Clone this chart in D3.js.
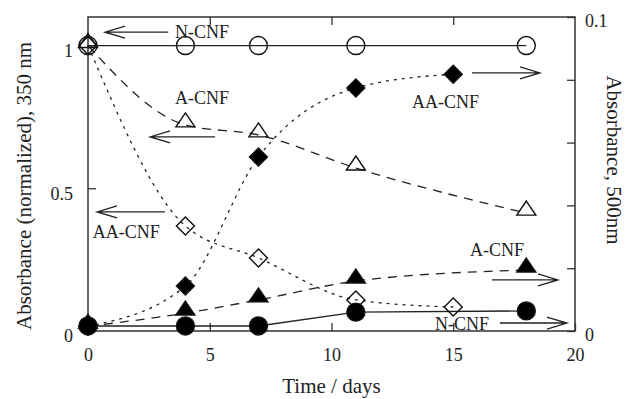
<!DOCTYPE html>
<html>
<head>
<meta charset="utf-8" />
<title>Absorbance vs time</title>
<script src="https://d3js.org/d3.v7.min.js"></script>
<style>
  body { margin: 0; background: #fff; }
  svg text { font-family: "Liberation Serif", "Times New Roman", serif; fill: #222; }
  .axis path.domain { display: none; }
  .axis line { stroke: #333; stroke-width: 1.3px; }
  .axis text { font-size: 18px; }
  .series { fill: none; stroke: #222; stroke-width: 1.3px; }
  .note { font-size: 18px; }
  .arrow { fill: none; stroke: #222; stroke-width: 1.3px; }
</style>
</head>
<body>
<script>
// ticks
const xTicks = [0, 5, 10, 15, 20];
const leftTicks = [0, 0.5, 1];
const rightTicks = [0, 0.02, 0.04, 0.06, 0.08, 0.1];

// days sampled for each sample type
const daysN = [0, 4, 7, 11, 18];
const daysA = [0, 4, 7, 11, 18];
const daysAA = [0, 4, 7, 11, 15];

// absorbance 350 nm, normalized (left axis, open markers)
const nOpen = [1, 1, 1, 1, 1];
const aOpen = [1, 0.722, 0.687, 0.571, 0.413];
const aaOpen = [1, 0.368, 0.256, 0.109, 0.084];

// absorbance 500 nm (right axis, filled markers)
const nFilled = [0.0016, 0.0016, 0.0016, 0.006, 0.0064];
const aFilled = [0.0015, 0.0057, 0.0099, 0.0159, 0.0194];
const aaFilled = [0.0015, 0.0143, 0.0554, 0.0774, 0.0818];

// labels, placed in data units (days, left-axis value)
const noteText = ['N-CNF', 'A-CNF', 'AA-CNF', 'AA-CNF', 'A-CNF', 'N-CNF'];
const noteX = [3.57, 3.57, 0.2, 13.31, 15.69, 14.25];
const noteY = [1.026, 0.795, 0.326, 0.781, 0.263, 0.0035];

// arrows: tail day -> tip day, at a left-axis height
const arrowFrom = [3.29, 5.22, 3.16, 15.77, 16.59, 16.92];
const arrowTo = [0.70, 2.55, 0.37, 18.56, 19.30, 19.67];
const arrowY = [1.047, 0.680, 0.417, 0.904, 0.179, 0.028];

const W = 626, H = 399;
const margin = { top: 17, right: 51, bottom: 68, left: 88 };
const width = W - margin.left - margin.right;
const height = H - margin.top - margin.bottom;

const svg = d3.select('body').append('svg')
    .attr('width', W).attr('height', H)
    .style('display', 'block');
svg.append('rect').attr('width', W).attr('height', H).attr('fill', '#fff');

const g = svg.append('g').attr('transform', `translate(${margin.left},${margin.top})`);

const x = d3.scaleLinear().domain([0, 20]).range([0, width]);
const yL = d3.scaleLinear().domain([0, 1.1]).range([height, 0]);
const yR = d3.scaleLinear().domain([0, 0.1]).range([height, 0]);

// axes, ticks pointing inward
g.append('g').attr('class', 'axis')
    .attr('transform', `translate(0,${height})`)
    .call(d3.axisBottom(x).tickValues(xTicks).tickSize(-8).tickPadding(17).tickFormat(d3.format('d')));
g.append('g').attr('class', 'axis')
    .call(d3.axisTop(x).tickValues(xTicks.slice(1, -1)).tickSize(-8).tickFormat(''));
g.append('g').attr('class', 'axis')
    .call(d3.axisLeft(yL).tickValues(leftTicks).tickSize(-8).tickPadding(15).tickFormat(d => d === 0.5 ? '0.5' : String(d)))
    .selectAll('text').attr('dy', '0.6em');
g.append('g').attr('class', 'axis')
    .attr('transform', `translate(${width},0)`)
    .call(d3.axisRight(yR).tickValues(rightTicks).tickSize(-8).tickPadding(10)
        .tickFormat(d => d === 0 ? '0' : (d === 0.1 ? '0.1' : '')))
    .selectAll('text').attr('dy', '0.55em');

g.append('rect').attr('width', width).attr('height', height)
    .attr('fill', 'none').attr('stroke', '#333').attr('stroke-width', 1.5);

// axis titles
svg.append('text').attr('x', margin.left + width / 2).attr('y', 393)
    .attr('text-anchor', 'middle').style('font-size', '21px').text('Time / days');
svg.append('text').attr('transform', 'translate(24,186) rotate(-90)')
    .attr('text-anchor', 'middle').attr('dominant-baseline', 'central')
    .style('font-size', '21px').text('Absorbance (normalized), 350 nm');
svg.append('text').attr('transform', 'translate(614,160) rotate(90)')
    .attr('text-anchor', 'middle').attr('dominant-baseline', 'central')
    .style('font-size', '21px').text('Absorbance, 500nm');

// series
const series = [
    { days: daysN, vals: nOpen, y: yL, shape: 'circle', fill: false, dash: null, curve: d3.curveLinear },
    { days: daysA, vals: aOpen, y: yL, shape: 'triangle', fill: false, dash: '9,7', curve: d3.curveMonotoneX },
    { days: daysAA, vals: aaOpen, y: yL, shape: 'diamond', fill: false, dash: '3,5', curve: d3.curveMonotoneX },
    { days: daysAA, vals: aaFilled, y: yR, shape: 'diamond', fill: true, dash: '3,5', curve: d3.curveMonotoneX },
    { days: daysA, vals: aFilled, y: yR, shape: 'triangle', fill: true, dash: '9,7', curve: d3.curveMonotoneX },
    { days: daysN, vals: nFilled, y: yR, shape: 'circle', fill: true, dash: null, curve: d3.curveLinear }
];

series.forEach(s => {
    const pts = s.days.map((d, i) => [d, s.vals[i]]);
    const line = d3.line().x(p => x(p[0])).y(p => s.y(p[1])).curve(s.curve);
    g.append('path').datum(pts).attr('class', 'series')
        .attr('stroke-dasharray', s.dash)
        .attr('stroke-width', s.dash === '3,5' ? 1.6 : 1.3)
        .attr('d', line);
});

function markerPath(shape) {
    if (shape === 'diamond') return 'M0,-9L9,0L0,9L-9,0Z';
    if (shape === 'triangle') return 'M0,-12L9.5,2L-9.5,2Z';
    return d3.arc()({ innerRadius: 0, outerRadius: 9, startAngle: 0, endAngle: 2 * Math.PI });
}

series.forEach(s => {
    g.append('g').selectAll('path')
        .data(s.days.map((d, i) => [d, s.vals[i]]))
        .join('path')
        .attr('transform', p => `translate(${x(p[0])},${s.y(p[1])})`)
        .attr('d', markerPath(s.shape))
        .attr('fill', s.fill ? '#000' : 'none')
        .attr('stroke', '#111')
        .attr('stroke-width', 1.4);
});

// labels
noteText.forEach((t, i) => {
    g.append('text').attr('class', 'note')
        .attr('x', x(noteX[i])).attr('y', yL(noteY[i]))
        .text(t);
});

// open arrows
arrowFrom.forEach((a, i) => {
    const x0 = x(a), x1 = x(arrowTo[i]), yy = yL(arrowY[i]);
    const dir = x1 > x0 ? -1 : 1;
    g.append('path').attr('class', 'arrow')
        .attr('d', `M${x0},${yy}L${x1},${yy}M${x1 + dir * 20},${yy - 6}L${x1},${yy}L${x1 + dir * 20},${yy + 6}`);
});
</script>
</body>
</html>
